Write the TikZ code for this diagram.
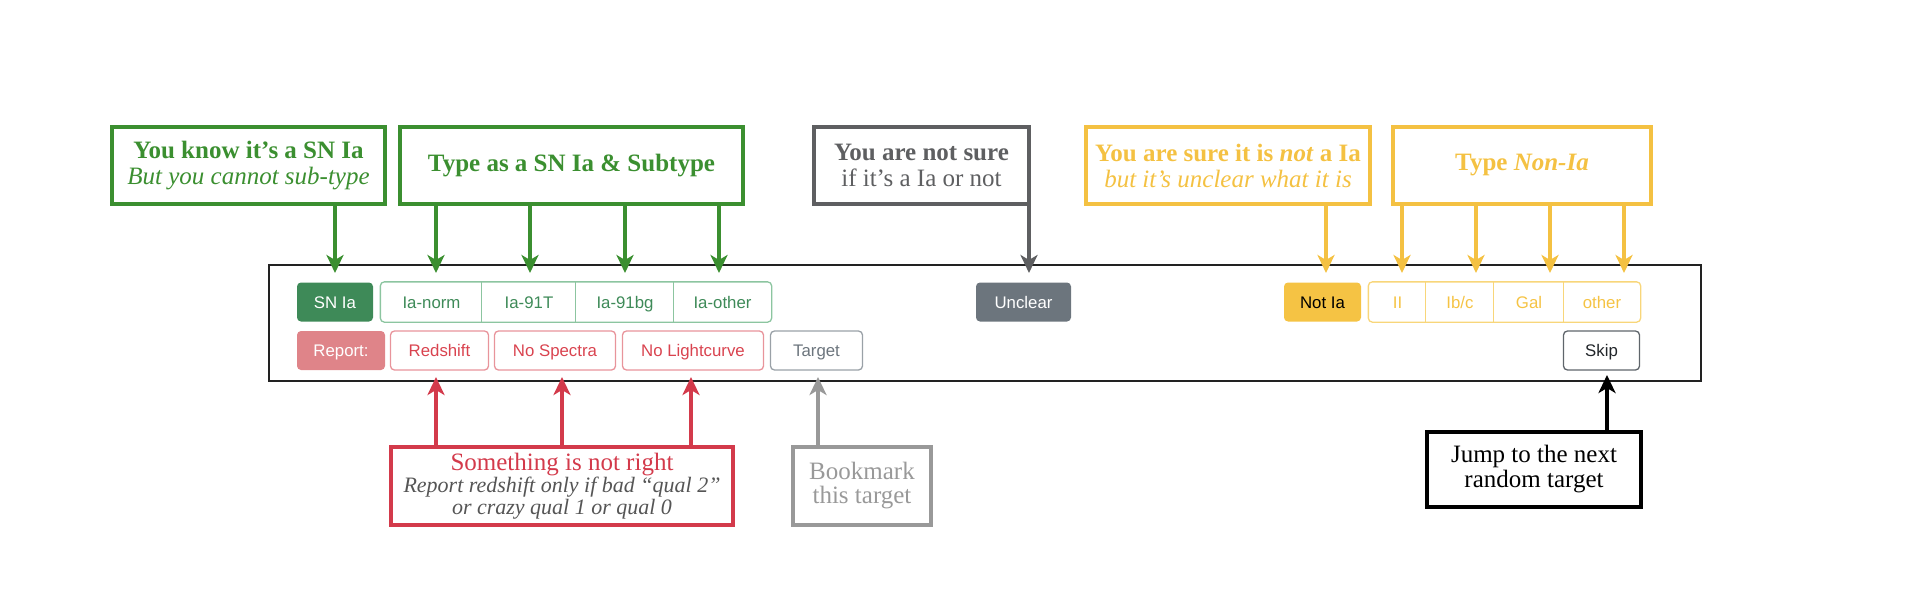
\documentclass[tikz,border=0pt]{standalone}
\usepackage{fontspec}
\setmainfont{Liberation Serif}
\newfontfamily\btnfont{Liberation Sans}
\usetikzlibrary{arrows.meta}
\definecolor{cgreen}{HTML}{3B8F30}
\definecolor{cgray}{HTML}{5E5F61}
\definecolor{cyellow}{HTML}{F4C142}
\definecolor{cred}{HTML}{D33A4B}
\definecolor{cbook}{HTML}{999999}
\definecolor{ctextg}{HTML}{555555}
\definecolor{snfill}{HTML}{3E8A58}
\definecolor{gborder}{HTML}{8CC5A0}
\definecolor{gtext}{HTML}{3E8A58}
\definecolor{unfill}{HTML}{6C757D}
\definecolor{nifill}{HTML}{F5C344}
\definecolor{yborder}{HTML}{F8D67A}
\definecolor{ytext}{HTML}{F5C344}
\definecolor{repfill}{HTML}{DF8489}
\definecolor{rborder}{HTML}{E8949B}
\definecolor{rtext}{HTML}{D9434F}
\definecolor{tborder}{HTML}{9AA1A7}
\definecolor{ttext}{HTML}{6C757D}
\definecolor{skborder}{HTML}{5F656B}
\definecolor{sktext}{HTML}{212529}
\definecolor{framec}{HTML}{222222}
\begin{document}
\begin{tikzpicture}[x=1pt,y=-1pt,
  box/.style={draw, rectangle, line width=4pt, inner sep=0pt, align=center,
    font=\fontsize{25}{26}\selectfont},
  arr/.style={line width=4pt, -{Stealth[length=18pt,width=17pt,inset=5pt]}},
  btn/.style={rectangle, rounded corners=4pt, line width=1.3pt, inner sep=0pt,
    minimum height=39pt, text height=12pt, text depth=0pt,
    font=\btnfont\fontsize{16.8}{18}\selectfont},
  grp/.style={btn, draw=none}
]
\useasboundingbox (0,0) rectangle (1920,600);

% frame
\node[draw=framec, line width=1.5pt, rectangle, inner sep=0pt,
  minimum width=1432pt, minimum height=116pt] (frame) at (985,323) {};

% top boxes
\node[box, draw=cgreen, text=cgreen, minimum width=273pt, minimum height=77pt]
  (know) at (248.5,165.5) {\textbf{You know it’s a SN Ia}\\\textit{But you cannot sub-type}};
\node[box, draw=cgreen, text=cgreen, minimum width=343pt, minimum height=77pt]
  (typeia) at (571.5,165.5) {\textbf{Type as a SN Ia \& Subtype}};
\node[box, draw=cgray, text=cgray, minimum width=215pt, minimum height=77pt]
  (unsure) at (921.5,165.5) {\textbf{You are not sure}\\if it’s a Ia or not};
\node[box, draw=cyellow, text=cyellow, minimum width=284pt, minimum height=77pt]
  (sure) at (1228,165.5) {\textbf{You are sure it is \textit{not} a Ia}\\\textit{but it’s unclear what it is}};
\node[box, draw=cyellow, text=cyellow, minimum width=258pt, minimum height=77pt]
  (typenon) at (1522,165.5) {\textbf{Type \textit{Non-Ia}}};

% bottom boxes
\node[box, draw=cred, minimum width=342pt, minimum height=78pt,
  font=\fontsize{22}{22}\selectfont]
  (wrong) at (562,486) {\textcolor{cred}{\fontsize{25}{22}\selectfont Something is not right}\\
  \textcolor{ctextg}{\itshape Report redshift only if bad “qual 2”}\\
  \textcolor{ctextg}{\itshape or crazy qual 1 or qual 0}};
\node[box, draw=cbook, text=cbook, minimum width=138pt, minimum height=78pt,
  font=\fontsize{25}{24}\selectfont]
  (book) at (862,486) {Bookmark\\this target};
\node[box, draw=black, text=black, minimum width=214pt, minimum height=75pt,
  font=\fontsize{25}{25}\selectfont]
  (jump) at (1534,469.5) {Jump to the next\\random target};

% buttons row 1
\node[btn, fill=snfill, text=white, minimum width=76pt] (snia) at (335,302) {SN Ia};
\node[grp, text=gtext, minimum width=101pt] (ianorm) at (431.5,302) {Ia-norm};
\node[grp, text=gtext, minimum width=94pt] (ia91t) at (529,302) {Ia-91T};
\node[grp, text=gtext, minimum width=98pt] (ia91bg) at (625,302) {Ia-91bg};
\node[grp, text=gtext, minimum width=97pt] (iaother) at (722.5,302) {Ia-other};
\draw[draw=gborder, line width=1.3pt, rounded corners=4pt]
  (ianorm.north west) rectangle (iaother.south east);
\draw[draw=gborder, line width=1.3pt] (ia91t.north west) -- (ia91t.south west);
\draw[draw=gborder, line width=1.3pt] (ia91bg.north west) -- (ia91bg.south west);
\draw[draw=gborder, line width=1.3pt] (iaother.north west) -- (iaother.south west);

\node[btn, fill=unfill, text=white, minimum width=95pt] (unclear) at (1023.5,302) {Unclear};
\node[btn, fill=nifill, text=black, minimum width=77pt] (notia) at (1322.5,302) {Not Ia};
\node[grp, text=ytext, minimum width=57pt] (tII) at (1397.5,302) {II};
\node[grp, text=ytext, minimum width=68pt] (tIbc) at (1460,302) {Ib/c};
\node[grp, text=ytext, minimum width=70pt] (tGal) at (1529,302) {Gal};
\node[grp, text=ytext, minimum width=76pt] (tother) at (1602,302) {other};
\draw[draw=yborder, line width=1.3pt, rounded corners=4pt]
  (tII.north west) rectangle (tother.south east);
\draw[draw=yborder, line width=1.3pt] (tIbc.north west) -- (tIbc.south west);
\draw[draw=yborder, line width=1.3pt] (tGal.north west) -- (tGal.south west);
\draw[draw=yborder, line width=1.3pt] (tother.north west) -- (tother.south west);

% buttons row 2
\node[btn, fill=repfill, text=white, minimum width=88pt] (report) at (341,350.5) {Report:};
\node[btn, draw=rborder, text=rtext, minimum width=98pt] (redshift) at (439.5,350.5) {Redshift};
\node[btn, draw=rborder, text=rtext, minimum width=121pt] (nospec) at (555,350.5) {No Spectra};
\node[btn, draw=rborder, text=rtext, minimum width=141pt] (nolc) at (693,350.5) {No Lightcurve};
\node[btn, draw=tborder, text=ttext, minimum width=92pt] (target) at (816.5,350.5) {Target};
\node[btn, draw=skborder, text=sktext, minimum width=76pt] (skip) at (1601.5,350.5) {Skip};

% arrow end points
\coordinate (g1) at (335,273);
\coordinate (g2) at (436,273);
\coordinate (g3) at (530,273);
\coordinate (g4) at (625,273);
\coordinate (g5) at (719,273);
\coordinate (u1) at (1029,273);
\coordinate (y1) at (1326,273);
\coordinate (y2) at (1402,273);
\coordinate (y3) at (1476,273);
\coordinate (y4) at (1550,273);
\coordinate (y5) at (1624,273);
\coordinate (r1) at (436,377);
\coordinate (r2) at (562,377);
\coordinate (r3) at (691,377);
\coordinate (b1) at (818,377);
\coordinate (k1) at (1607,375);

% arrows down
\draw[arr, cgreen] (know.south -| g1) -- (g1);
\foreach \p in {g2,g3,g4,g5} \draw[arr, cgreen] (typeia.south -| \p) -- (\p);
\draw[arr, cgray] (unsure.south -| u1) -- (u1);
\draw[arr, cyellow] (sure.south -| y1) -- (y1);
\foreach \p in {y2,y3,y4,y5} \draw[arr, cyellow] (typenon.south -| \p) -- (\p);
% arrows up
\foreach \p in {r1,r2,r3} \draw[arr, cred] (wrong.north -| \p) -- (\p);
\draw[arr, cbook] (book.north -| b1) -- (b1);
\draw[arr, black] (jump.north -| k1) -- (k1);
\end{tikzpicture}
\end{document}
